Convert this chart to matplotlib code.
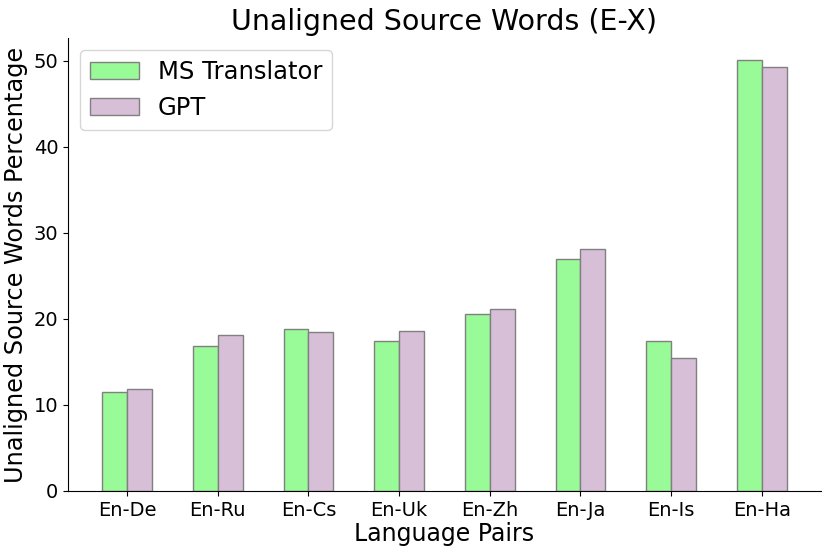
import numpy as np
import matplotlib.pyplot as plt

pairs = ['En-De', 'En-Ru', 'En-Cs', 'En-Uk', 'En-Zh', 'En-Ja', 'En-Is', 'En-Ha']
ms_translator = [11.5, 16.8, 18.8, 17.4, 20.6, 26.9, 17.4, 50.1]
gpt = [11.8, 18.1, 18.5, 18.6, 21.1, 28.1, 15.4, 49.3]

MS_COLOR = 'palegreen'
GPT_COLOR = 'thistle'

x = np.arange(len(pairs))
width = 0.275

fig = plt.figure(figsize=(8.3, 5.54), dpi=100)
ax = fig.add_axes([0.082, 0.114, 0.907, 0.817])

ax.bar(x - width / 2, ms_translator, width, color=MS_COLOR, edgecolor='grey', linewidth=1, label='MS Translator')
ax.bar(x + width / 2, gpt, width, color=GPT_COLOR, edgecolor='grey', linewidth=1, label='GPT')

ax.set_title('Unaligned Source Words (E-X)', fontsize=20.5)
ax.set_xlabel('Language Pairs', fontsize=17, labelpad=2)
ax.set_ylabel('Unaligned Source Words Percentage', fontsize=17.3)
ax.set_xticks(x)
ax.set_xticklabels(pairs)
ax.tick_params(labelsize=14)
ax.spines['top'].set_visible(False)
ax.spines['right'].set_visible(False)
ax.legend(loc='upper left', fontsize=17.5)

fig.savefig('out.png', dpi=100, facecolor='white')
